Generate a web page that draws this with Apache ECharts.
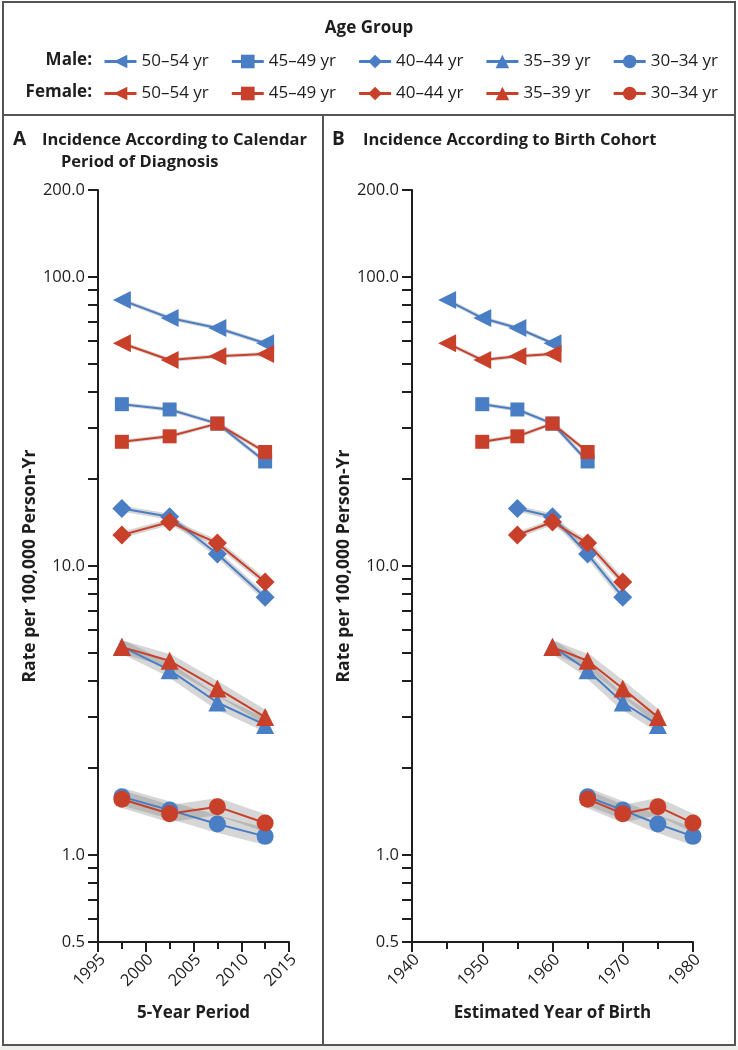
<!DOCTYPE html>
<html><head><meta charset="utf-8">
<script src="https://cdn.jsdelivr.net/npm/echarts@6/dist/echarts.min.js"></script>
<style>html,body{margin:0;padding:0;background:#fff}#c{width:738px;height:1050px}</style>
</head><body><div id="c"></div><script>
// ---------- data ----------
const periods = [1997.5, 2002.5, 2007.5, 2012.5];
const ageGroups = ['50–54 yr', '45–49 yr', '40–44 yr', '35–39 yr', '30–34 yr'];
const birthYears = [
  [1945, 1950, 1955, 1960],
  [1950, 1955, 1960, 1965],
  [1955, 1960, 1965, 1970],
  [1960, 1965, 1970, 1975],
  [1965, 1970, 1975, 1980]
];
const maleRates = [
  [83.2, 72.1, 66.6, 59.0],
  [36.3, 34.8, 31.1, 23.0],
  [15.8, 14.8, 11.0, 7.8],
  [5.26, 4.36, 3.37, 2.82],
  [1.59, 1.43, 1.28, 1.16]
];
const femaleRates = [
  [59.0, 51.6, 53.2, 54.1],
  [26.9, 28.1, 31.1, 24.8],
  [12.8, 14.2, 12.0, 8.8],
  [5.24, 4.70, 3.77, 3.00],
  [1.56, 1.39, 1.47, 1.29]
];
const yTickValues = [0.5, 0.6, 0.7, 0.8, 0.9, 1, 2, 3, 4, 5, 6, 7, 8, 9, 10, 20, 30, 40, 50, 60, 70, 80, 90, 100, 200];
const yLabelValues = [0.5, 1, 10, 100, 200];

// ---------- styles ----------
const FONT = '"Open Sans", "Noto Sans", sans-serif';
const BLUE = '#4a7ec4';
const RED = '#c9402a';
const INK = '#1e1e1e';
const symbols = ['triangle', 'rect', 'diamond', 'triangle', 'circle'];
const symbolRotates = [90, 0, 0, 0, 0];
const symbolSizes = [18, 14, 19, 18, 17];
const bandWidths = [4, 4, 6, 13, 17];

const series = [];
[0, 1].forEach(p => {
  ageGroups.forEach((ag, i) => {
    const xs = p === 0 ? periods : birthYears[i];
    [[maleRates, 'M'], [femaleRates, 'F']].forEach(([rates, sx]) => {
      series.push({
        type: 'line', name: 'band' + p + sx + i, xAxisIndex: p, yAxisIndex: p,
        data: xs.map((x, k) => [x, rates[i][k]]),
        symbol: 'none', silent: true, z: 1,
        lineStyle: { width: bandWidths[i], color: 'rgba(120,120,120,0.30)', cap: 'butt', join: 'round' }
      });
    });
  });
  ageGroups.forEach((ag, i) => {
    const xs = p === 0 ? periods : birthYears[i];
    [[maleRates, 'M', BLUE, 3], [femaleRates, 'F', RED, 4]].forEach(([rates, sx, col, z]) => {
      series.push({
        type: 'line', name: sx + '|' + ag, xAxisIndex: p, yAxisIndex: p,
        data: xs.map((x, k) => [x, rates[i][k]]),
        symbol: symbols[i], symbolRotate: symbolRotates[i], symbolSize: symbolSizes[i],
        z: z, lineStyle: { width: 2, color: col }, itemStyle: { color: col, opacity: 1 },
        emphasis: { disabled: true }
      });
    });
  });
});

// legend item spacing
const mctx = document.createElement('canvas').getContext('2d');
mctx.font = '17px ' + FONT;
const textW = mctx.measureText('50–54 yr').width;
const ITEM_W = 32;
const legendGap = 125.8 - ITEM_W - 5 - textW;

function makeLegend(prefix, top) {
  return {
    top: top, left: 103, padding: 0, orient: 'horizontal', itemWidth: ITEM_W, itemHeight: 17, itemGap: legendGap,
    selectedMode: false,
    data: ageGroups.map(a => prefix + '|' + a),
    formatter: n => n.split('|')[1],
    lineStyle: { width: 3 },
    textStyle: { fontFamily: FONT, fontSize: 17, color: INK }
  };
}

function xAxis(grid, min, max, interval, name) {
  return {
    type: 'value', gridIndex: grid, min, max, interval,
    name, nameLocation: 'middle', nameGap: 63,
    nameTextStyle: { fontFamily: FONT, fontSize: 17, fontWeight: 'bold', color: INK },
    axisLine: { show: true, lineStyle: { color: INK, width: 2 } },
    axisTick: { show: true, length: 10, lineStyle: { color: INK, width: 2 } },
    minorTick: { show: true, splitNumber: 2, length: 7, lineStyle: { color: INK, width: 2 } },
    splitLine: { show: false }, minorSplitLine: { show: false },
    axisLabel: { rotate: 45, margin: 20, padding: [0, -7, 0, 0], fontFamily: FONT, fontSize: 16.5, color: INK, formatter: v => String(v) }
  };
}
function yAxis(grid) {
  return {
    type: 'log', logBase: 10, gridIndex: grid, min: 0.5, max: 200,
    name: 'Rate per 100,000 Person-Yr', nameLocation: 'middle', nameGap: 51, nameRotate: 90,
    nameTextStyle: { fontFamily: FONT, fontSize: 17.5, fontWeight: 'bold', color: INK },
    axisLine: { show: true, lineStyle: { color: INK, width: 2 } },
    axisTick: { show: true, length: 10, customValues: yTickValues, lineStyle: { color: INK, width: 2 } },
    splitLine: { show: false },
    axisLabel: { customValues: yLabelValues, margin: 13, fontFamily: FONT, fontSize: 16.5, color: INK, formatter: v => Number(v).toFixed(1) }
  };
}

const txt = (x, y, text, size, weight, align) => ({
  type: 'text', x, y, silent: true,
  style: { text, fill: INK, font: (weight || 'normal') + ' ' + size + 'px ' + FONT, textAlign: align || 'left', textVerticalAlign: 'middle' }
});

const option = {
  animation: false,
  backgroundColor: '#fff',
  grid: [
    { left: 98, top: 190, width: 191, height: 752 },
    { left: 412, top: 190, width: 281, height: 752 }
  ],
  xAxis: [xAxis(0, 1995, 2015, 5, '5-Year Period'), xAxis(1, 1940, 1980, 10, 'Estimated Year of Birth')],
  yAxis: [yAxis(0), yAxis(1)],
  legend: [makeLegend('M', 53), makeLegend('F', 85)],
  series,
  graphic: [
    { type: 'rect', silent: true, shape: { x: 0, y: 1046, width: 738, height: 4 }, style: { fill: '#efefec' } },
    { type: 'rect', silent: true, shape: { x: 3, y: 2, width: 732, height: 1043 }, style: { fill: 'none', stroke: '#555', lineWidth: 2 } },
    { type: 'line', silent: true, shape: { x1: 3, y1: 115, x2: 735, y2: 115 }, style: { stroke: '#555', lineWidth: 2 } },
    { type: 'line', silent: true, shape: { x1: 323, y1: 115, x2: 323, y2: 1045 }, style: { stroke: '#555', lineWidth: 2 } },
    txt(369, 28, 'Age Group', 17, 'bold', 'center'),
    txt(92, 60, 'Male:', 17, 'bold', 'right'),
    txt(92, 92, 'Female:', 17, 'bold', 'right'),
    txt(13, 140, 'A', 19, 'bold'),
    txt(42, 140, 'Incidence According to Calendar', 16.5, 'bold'),
    txt(61, 162, 'Period of Diagnosis', 16.5, 'bold'),
    txt(332, 140, 'B', 19, 'bold'),
    txt(363, 140, 'Incidence According to Birth Cohort', 16.5, 'bold')
  ]
};
const chart = echarts.init(document.getElementById('c'), null, { renderer: 'canvas' });
chart.setOption(option);
</script></body></html>
